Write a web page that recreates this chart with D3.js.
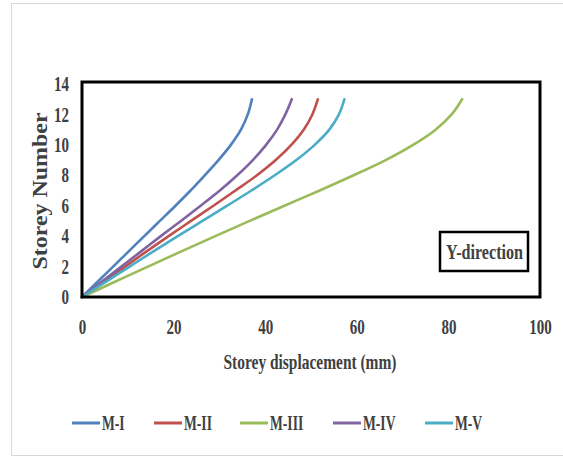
<!DOCTYPE html>
<html>
<head>
<meta charset="utf-8">
<script src="https://cdn.jsdelivr.net/npm/d3@7"></script>
<style>
  html, body { margin: 0; padding: 0; background: #fff; }
  svg { display: block; }
  text { font-family: "Liberation Serif", "Times New Roman", serif; font-weight: bold; fill: #404040; }
</style>
</head>
<body>
<svg id="chart" width="563" height="457"></svg>
<script>
// ---- data ----
const storeys = [0,1,2,3,4,5,6,7,8,9,10,11,12,13];
const seriesNames = ["M-I", "M-II", "M-III", "M-IV", "M-V"];
const mI   = [0, 3.4, 6.8, 10.2, 13.6, 17.0, 20.4, 23.7, 26.8, 29.8, 32.5, 34.7, 36.2, 37.1];
const mII  = [0, 4.7, 9.4, 14.1, 18.9, 23.8, 28.7, 33.5, 38.2, 42.3, 45.7, 48.4, 50.3, 51.5];
const mIII = [0, 7.2, 14.4, 21.7, 29.1, 36.6, 44.2, 51.9, 59.3, 66.3, 72.3, 77.2, 80.7, 83.0];
const mIV  = [0, 4.3, 8.6, 12.9, 17.2, 21.6, 25.9, 30.1, 33.9, 37.3, 40.2, 42.6, 44.4, 45.8];
const mV   = [0, 5.2, 10.4, 15.6, 20.9, 26.3, 31.7, 37.0, 42.1, 46.8, 50.8, 54.0, 56.1, 57.3];
const seriesColors = ["#4F81BD", "#C0504D", "#9BBB59", "#8064A2", "#4BACC6"];
const xTicks = [0, 20, 40, 60, 80, 100];
const yTicks = [0, 2, 4, 6, 8, 10, 12, 14];
const xTitle = "Storey displacement (mm)";
const yTitle = "Storey Number";
const boxLabel = "Y-direction";

const allSeries = [mI, mII, mIII, mIV, mV];

// ---- layout ----
const svg = d3.select("#chart");
const pL = 82, pR = 540, pT = 84, pB = 297;

const x = d3.scaleLinear().domain([0, 100]).range([pL, pR]);
const y = d3.scaleLinear().domain([0, 14]).range([pB, pT]);

function condense(sel, factor) {
  sel.each(function() {
    const len = this.getComputedTextLength();
    d3.select(this).attr("textLength", len * factor).attr("lengthAdjust", "spacingAndGlyphs");
  });
}
function fitTo(sel, target) {
  sel.attr("textLength", target).attr("lengthAdjust", "spacingAndGlyphs");
}

// outer frame
svg.append("rect")
  .attr("x", 11.5).attr("y", 3.5).attr("width", 560).attr("height", 452)
  .attr("fill", "none").attr("stroke", "#d9d9d9").attr("stroke-width", 1);

// lines
const line = d3.line()
  .x(d => x(d[0]))
  .y(d => y(d[1]))
  .curve(d3.curveCatmullRom.alpha(0.5));

allSeries.forEach((vals, i) => {
  svg.append("path")
    .datum(vals.map((v, k) => [v, storeys[k]]))
    .attr("d", line)
    .attr("fill", "none")
    .attr("stroke", seriesColors[i])
    .attr("stroke-width", 2.6)
    .attr("stroke-linecap", "round");
});

// plot border
svg.append("rect")
  .attr("x", pL).attr("y", pT - 2).attr("width", pR - pL).attr("height", pB - pT + 2)
  .attr("fill", "none").attr("stroke", "#000").attr("stroke-width", 3);

// x axis
const xAxis = d3.axisBottom(x).tickValues(xTicks).tickSize(0).tickPadding(0);
const gx = svg.append("g").attr("transform", `translate(0,${pB})`).call(xAxis);
gx.select(".domain").remove();
gx.selectAll("text")
  .attr("y", 37).attr("dy", null)
  .style("font-size", "20px").style("font-family", "Liberation Serif").style("font-weight", "bold").attr("fill", "#404040")
  .call(condense, 0.75);

// y axis
const yAxis = d3.axisLeft(y).tickValues(yTicks).tickSize(0).tickPadding(0);
const gy = svg.append("g").attr("transform", `translate(${pL},0)`).call(yAxis);
gy.select(".domain").remove();
gy.selectAll("text")
  .attr("x", -13).attr("dy", "0.33em")
  .style("font-size", "20px").style("font-family", "Liberation Serif").style("font-weight", "bold").attr("fill", "#404040")
  .call(condense, 0.75);

// axis titles
svg.append("text")
  .attr("x", 310).attr("y", 369).attr("text-anchor", "middle")
  .style("font-size", "20px").text(xTitle)
  .call(fitTo, 173);

svg.append("text")
  .attr("transform", "translate(47,191) rotate(-90)")
  .attr("text-anchor", "middle")
  .style("font-size", "20px").text(yTitle)
  .call(fitTo, 157);

// Y-direction label box
svg.append("rect")
  .attr("x", 440).attr("y", 232).attr("width", 88).attr("height", 39)
  .attr("fill", "#fff").attr("stroke", "#000").attr("stroke-width", 2.5);
svg.append("text")
  .attr("x", 484.5).attr("y", 259).attr("text-anchor", "middle")
  .style("font-size", "21px").attr("fill", "#333").text(boxLabel)
  .call(fitTo, 77);

// legend
const legendX = [72, 154, 240, 333, 425];
const legendY = 423;
seriesNames.forEach((name, i) => {
  svg.append("line")
    .attr("x1", legendX[i]).attr("x2", legendX[i] + 28)
    .attr("y1", legendY).attr("y2", legendY)
    .attr("stroke", seriesColors[i]).attr("stroke-width", 3);
  svg.append("text")
    .attr("x", legendX[i] + 30).attr("y", legendY + 7)
    .style("font-size", "20px").text(name)
    .call(condense, 0.68);
});
</script>
</body>
</html>
